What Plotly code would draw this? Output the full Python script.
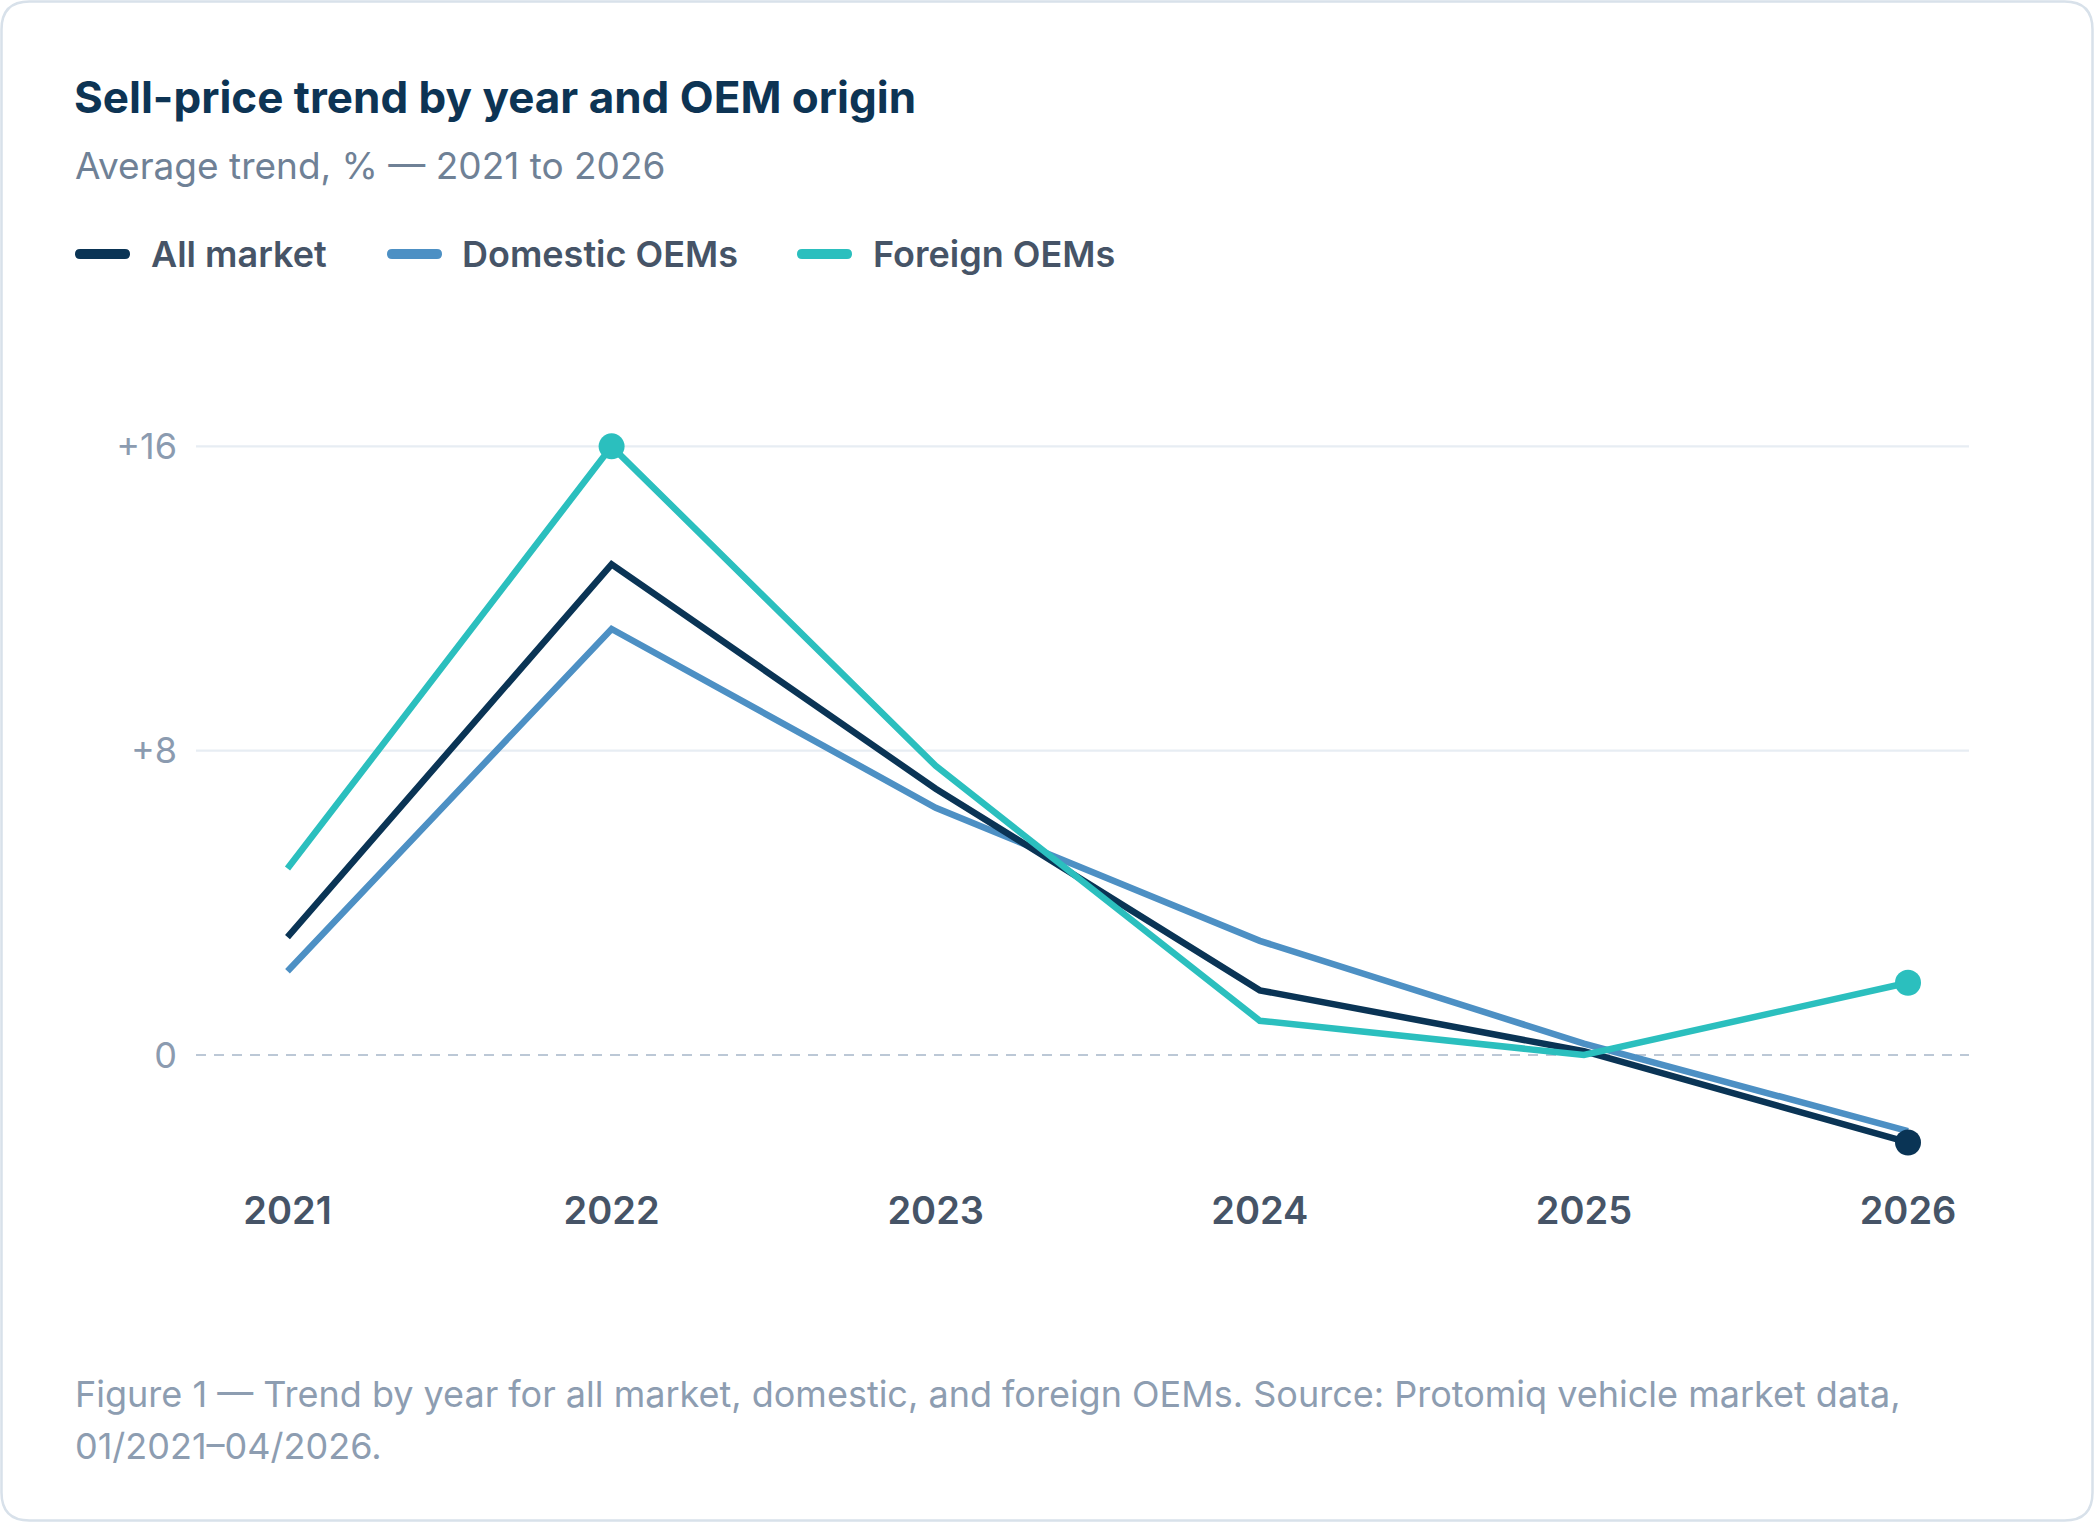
import plotly.graph_objects as go

# ---------------- data ----------------
years = [2021, 2022, 2023, 2024, 2025, 2026]
year_labels = ["2021", "2022", "2023", "2024", "2025", "2026"]
all_market = [3.1, 12.9, 7.0, 1.7, 0.1, -2.3]
domestic = [2.2, 11.2, 6.5, 3.0, 0.3, -2.0]
foreign = [4.9, 16.0, 7.6, 0.9, 0.0, 1.9]
series_names = ["All market", "Domestic OEMs", "Foreign OEMs"]
y_ticks = [0, 8, 16]
y_tick_labels = ["0", "+8", "+16"]
# highlighted points (index into years)
all_market_marks = [5]
foreign_marks = [1, 5]

title = "Sell-price trend by year and OEM origin"
subtitle = "Average trend, % \u2014 2021 to 2026"
foot1 = ("Figure 1 \u2014 Trend by year for all market, domestic, and foreign OEMs. "
         "Source: Protomiq vehicle market data,")
foot2 = "01/2021\u201304/2026."

# ---------------- styling ----------------
C_ALL = "#0a3455"
C_DOM = "#4d90c4"
C_FOR = "#2bbfbe"
C_TITLE = "#0d3454"
C_SUB = "#6f8196"
C_LEG = "#465467"
C_YT = "#8b9bb0"
C_FOOT = "#8d9db1"
FONT = "Inter"

W, H = 2094, 1522
PL, PR, PT, PB = 196, 1969, 400, 1160   # plot area in page pixels
ML, MR, MT, MB = PL, W - PR, PT, H - PB
PW, PH = PR - PL, PB - PT

x_px_per_year = 324.1
x0 = 2021 - (287.5 - PL) / x_px_per_year
x1 = 2026 + (PR - 1908) / x_px_per_year
y_px_per_unit = 38.04
y_top = (1055 - PT) / y_px_per_unit
y_bot = (1055 - PB) / y_px_per_unit


def px(X):
    return (X - PL) / PW


def py(Y):
    return (PB - Y) / PH


fig = go.Figure()

LW = 6.5
for name, vals, col in [(series_names[1], domestic, C_DOM),
                        (series_names[0], all_market, C_ALL),
                        (series_names[2], foreign, C_FOR)]:
    fig.add_trace(go.Scatter(x=years, y=vals, mode="lines", name=name,
                             line=dict(color=col, width=LW),
                             showlegend=False, hoverinfo="skip"))

fig.add_trace(go.Scatter(x=[years[i] for i in all_market_marks],
                         y=[all_market[i] for i in all_market_marks],
                         mode="markers", marker=dict(color=C_ALL, size=26),
                         showlegend=False, hoverinfo="skip"))
fig.add_trace(go.Scatter(x=[years[i] for i in foreign_marks],
                         y=[foreign[i] for i in foreign_marks],
                         mode="markers", marker=dict(color=C_FOR, size=26),
                         showlegend=False, hoverinfo="skip"))

shapes = []
# gridlines
for v in y_ticks:
    if v == 0:
        shapes.append(dict(type="line", xref="paper", yref="y", x0=0, x1=1, y0=0, y1=0,
                           line=dict(color="#bcc8d6", width=2.2, dash="10px,8px"),
                           layer="below"))
    else:
        shapes.append(dict(type="line", xref="paper", yref="y", x0=0, x1=1, y0=v, y1=v,
                           line=dict(color="#e7edf3", width=2.2), layer="below"))


def rounded_rect(xa, ya, xb, yb, r):
    # page pixel coords -> offsets relative to plot bottom-left, y up
    ax, bx = xa - PL, xb - PL
    ay, by = PB - ya, PB - yb   # ay top (larger), by bottom
    return (f"M{ax + r},{ay} L{bx - r},{ay} Q{bx},{ay} {bx},{ay - r} "
            f"L{bx},{by + r} Q{bx},{by} {bx - r},{by} L{ax + r},{by} "
            f"Q{ax},{by} {ax},{by + r} L{ax},{ay - r} Q{ax},{ay} {ax + r},{ay} Z")


# card border
shapes.append(dict(type="path", xref="paper", yref="paper", xsizemode="pixel",
                   ysizemode="pixel", xanchor=0, yanchor=0,
                   path=rounded_rect(1.5, 1.5, W - 1.5, H - 1.5, 28),
                   line=dict(color="#d8e1ea", width=2.5), fillcolor="rgba(0,0,0,0)",
                   layer="below"))

annotations = []
# legend (custom)
legend_items = [(series_names[0], C_ALL, 75, 149),
                (series_names[1], C_DOM, 387, 460),
                (series_names[2], C_FOR, 797, 871)]
LEG_Y = 254
for name, col, sx, tx in legend_items:
    shapes.append(dict(type="path", xref="paper", yref="paper", xsizemode="pixel",
                       ysizemode="pixel", xanchor=0, yanchor=0,
                       path=rounded_rect(sx, LEG_Y - 5, sx + 55, LEG_Y + 5, 5),
                       line=dict(width=0), fillcolor=col))
    annotations.append(dict(text=name, xref="paper", yref="paper", x=px(tx), y=py(LEG_Y),
                            xanchor="left", yanchor="middle", showarrow=False,
                            font=dict(family=FONT, size=36, color=C_LEG, weight=600)))

annotations += [
    dict(text=title, xref="paper", yref="paper", x=px(72), y=py(97), xanchor="left",
         yanchor="middle", showarrow=False,
         font=dict(family=FONT, size=44, color=C_TITLE, weight=700)),
    dict(text=subtitle, xref="paper", yref="paper", x=px(73), y=py(165), xanchor="left",
         yanchor="middle", showarrow=False,
         font=dict(family=FONT, size=37, color=C_SUB, weight=400)),
    dict(text=foot1, xref="paper", yref="paper", x=px(73), y=py(1394), xanchor="left",
         yanchor="middle", showarrow=False,
         font=dict(family=FONT, size=36, color=C_FOOT, weight=400)),
    dict(text=foot2, xref="paper", yref="paper", x=px(73), y=py(1446), xanchor="left",
         yanchor="middle", showarrow=False,
         font=dict(family=FONT, size=36, color=C_FOOT, weight=400)),
]

fig.update_layout(
    width=W, height=H,
    margin=dict(l=ML, r=MR, t=MT, b=MB, pad=0),
    paper_bgcolor="white", plot_bgcolor="white",
    showlegend=False,
    shapes=shapes, annotations=annotations,
    xaxis=dict(range=[x0, x1], tickmode="array", tickvals=years, ticktext=year_labels,
               showgrid=False, zeroline=False, showline=False, ticks="",
               ticklabelstandoff=25,
               tickfont=dict(family=FONT, size=38, color=C_LEG, weight=600),
               fixedrange=True),
    yaxis=dict(range=[y_bot, y_top], tickmode="array", tickvals=y_ticks,
               ticktext=y_tick_labels, showgrid=False, zeroline=False, showline=False,
               ticks="", ticklabelstandoff=18,
               tickfont=dict(family=FONT, size=36, color=C_YT, weight=400),
               fixedrange=True),
)

fig.write_html("out.html", config={"displayModeBar": False})
